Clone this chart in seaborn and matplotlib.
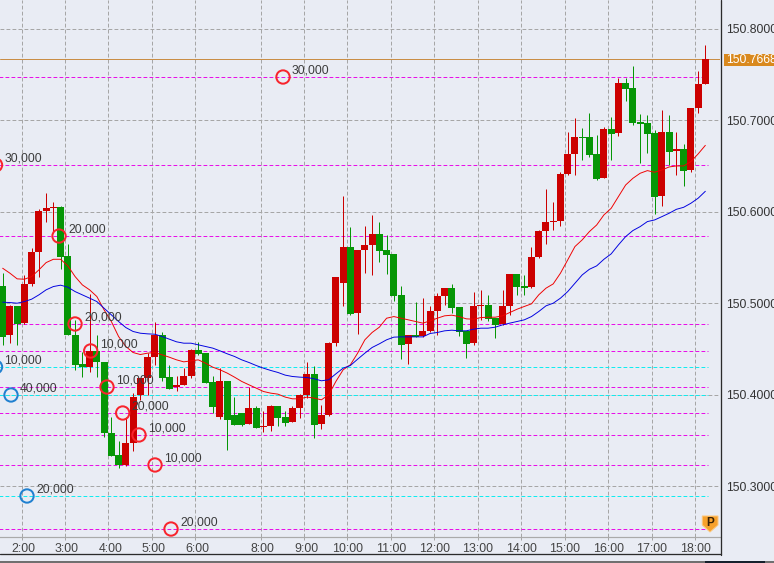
import numpy as np
import pandas as pd
import matplotlib
matplotlib.use("Agg")
import matplotlib.pyplot as plt
from matplotlib.lines import Line2D
from matplotlib.patches import Polygon, Rectangle
from matplotlib.transforms import ScaledTranslation
import seaborn as sns

# Candles: values minus 150
opens = [.5189,.4647,.4964,.4782,.5211,.5561,.6008,.6041,.6056,.5517,.4654,.4338,.4305,.4476,.4359,.3580,.3340,.3235,.3475,.3995,
         .4185,.4414,.4654,.4196,.4083,.4108,.4206,.4490,.4458,.4141,.3759,.4152,.3781,.3799,.3682,.3857,.3650,.3660,.3879,.3759,
         .3704,.3857,.3999,.4228,.3682,.3781,.4567,.5222,.5615,.4894,.5582,.5637,.5757,.5582,.5539,.5091,.4556,.4654,.4643,.4698,
         .4916,.5080,.5167,.4960,.4698,.4567,.4971,.4982,.4840,.4774,.4971,.5320,.5189,.5178,.5506,.5790,.5888,.5899,.6412,.6631,
         .6816,.6816,.6631,.6369,.6904,.6860,.7406,.7351,.6980,.6969,.6860,.6172,.6871,.6667,.6685,.6456,.7133,.7395]
highs = [.5328,.4982,.4964,.5309,.5601,.6026,.6201,.6107,.6063,.5648,.4818,.4465,.5098,.4654,.4359,.3759,.3497,.3751,.4017,.4185,
         .4454,.4793,.4683,.4327,.4199,.4297,.4498,.4574,.4458,.4199,.4290,.4152,.3974,.3799,.4083,.3879,.3824,.3890,.3879,.3824,
         .3879,.4010,.4359,.4316,.3890,.4578,.5288,.6172,.5834,.5582,.5844,.5965,.5888,.5746,.5539,.5189,.4654,.5015,.5058,.4971,
         .5113,.5167,.5211,.4960,.4698,.5124,.5146,.5091,.4840,.5146,.5320,.5320,.5309,.5615,.5801,.6249,.6107,.6434,.6871,.7024,
         .6915,.7078,.6838,.6926,.7035,.7461,.7461,.7592,.7068,.7057,.6893,.7111,.7057,.6871,.6740,.7133,.7537,.7821]
lows = [.4538,.4563,.4538,.4774,.5189,.5291,.5892,.5764,.5375,.4647,.4265,.4188,.4243,.4188,.3533,.3326,.3195,.3216,.3380,.3944,
        .3999,.4327,.4148,.4065,.4043,.4101,.4185,.4436,.4130,.3799,.3737,.3398,.3664,.3653,.3682,.3639,.3595,.3606,.3660,.3660,
        .3704,.3748,.3966,.3529,.3628,.3770,.4534,.4971,.4873,.4665,.5331,.5309,.5451,.5320,.5025,.4392,.4338,.4632,.4632,.4687,
        .4654,.4982,.4894,.4643,.4403,.4545,.4818,.4807,.4621,.4767,.4873,.5091,.5091,.5167,.5495,.5648,.5801,.5844,.6401,.6401,
        .6565,.6598,.6347,.6369,.6565,.6827,.7209,.6947,.6532,.6642,.5976,.6063,.6511,.6401,.6281,.6434,.7078,.7395]
closes = [.4636,.4964,.4774,.5211,.5561,.6008,.6037,.6056,.5510,.4647,.4327,.4301,.4476,.4352,.3577,.3333,.3231,.3475,.3977,.4185,
          .4414,.4654,.4185,.4065,.4108,.4206,.4487,.4447,.4130,.3868,.4152,.3726,.3671,.3671,.3857,.3639,.3660,.3879,.3748,.3693,
          .3857,.3995,.4228,.3671,.3781,.4567,.5288,.5615,.4884,.5582,.5637,.5757,.5571,.5528,.5080,.4545,.4654,.4632,.4698,.4916,
          .5080,.5167,.4949,.4687,.4556,.4971,.4982,.4829,.4763,.4971,.5320,.5178,.5167,.5506,.5790,.5888,.5899,.6412,.6631,.6816,
          .6805,.6620,.6358,.6904,.6849,.7406,.7341,.6969,.6958,.6849,.6161,.6871,.6653,.6685,.6445,.7133,.7395,.7668]

ma_fast = [.5382,.5328,.5266,.5262,.5291,.5364,.5444,.5480,.5480,.5408,.5291,.5200,.5146,.5073,.4927,.4800,.4636,.4527,.4461,.4439,
           .4454,.4461,.4436,.4410,.4381,.4359,.4370,.4381,.4345,.4301,.4272,.4236,.4192,.4145,.4108,.4072,.4035,.4017,.4006,.3974,
           .3955,.3955,.3974,.3963,.3944,.3999,.4145,.4272,.4327,.4454,.4600,.4680,.4738,.4836,.4854,.4836,.4818,.4800,.4782,.4807,
           .4836,.4862,.4869,.4854,.4829,.4825,.4843,.4847,.4847,.4862,.4898,.4934,.4964,.4993,.5091,.5164,.5211,.5328,.5473,.5619,
           .5692,.5783,.5855,.5965,.6037,.6165,.6292,.6365,.6420,.6449,.6431,.6456,.6489,.6500,.6500,.6547,.6631,.6725]
ma_slow = [.5011,.5007,.5000,.5018,.5044,.5091,.5146,.5182,.5197,.5175,.5127,.5091,.5055,.5018,.4945,.4873,.4800,.4734,.4691,.4672,
           .4665,.4661,.4636,.4607,.4578,.4563,.4563,.4545,.4527,.4509,.4479,.4447,.4418,.4381,.4352,.4319,.4290,.4265,.4243,.4214,
           .4199,.4192,.4188,.4174,.4152,.4163,.4228,.4290,.4319,.4388,.4454,.4516,.4556,.4600,.4629,.4632,.4632,.4632,.4632,.4669,
           .4680,.4698,.4705,.4698,.4698,.4716,.4727,.4727,.4738,.4763,.4782,.4800,.4818,.4854,.4909,.4971,.5000,.5055,.5127,.5218,
           .5309,.5371,.5408,.5480,.5539,.5637,.5728,.5794,.5837,.5892,.5910,.5946,.5983,.6026,.6048,.6092,.6147,.6223]

tick_labels = ["2:00","3:00","4:00","5:00","6:00","8:00","9:00","10:00","11:00","12:00","13:00","14:00","15:00","16:00","17:00","18:00"]
tick_bars = [2.6,8.6,14.6,20.6,26.6,35.6,41.6,47.6,53.6,59.6,65.6,71.6,77.6,83.6,89.6,95.6]
price_ticks = [150.3,150.4,150.5,150.6,150.7,150.8]
last_price = 150.7668

magenta_levels = [150.7472,150.6510,150.5734,150.4773,150.4478,150.4084,150.3800,150.3560,150.3232,150.2532]
cyan_levels = [150.4303,150.3997,150.2893]

red_x = [38.7,-0.99,7.78,9.99,12.15,14.4,16.57,18.82,21.03,23.24]
red_y = magenta_levels
red_amount = ["30,000","30,000","20,000","20,000","10,000","10,000","20,000","10,000","10,000","20,000"]
blue_x = [-0.99,1.15,3.36]
blue_y = cyan_levels
blue_amount = ["10,000","40,000","20,000"]

W, H = 774, 563
BG = "#e9ecf4"
TEXT = "#3c3c3c"
PX = 0.72  # points per pixel at dpi 100

sns.set_theme(style="white", rc={"figure.facecolor": BG, "axes.facecolor": BG, "savefig.facecolor": BG})
plt.rcParams["font.family"] = ["Liberation Sans", "DejaVu Sans"]

fig = plt.figure(figsize=(W / 100, H / 100), dpi=100)
AX_BOTTOM = 537.0
ax = fig.add_axes([0, 1 - AX_BOTTOM / H, 720 / W, AX_BOTTOM / H])

n = len(closes)
bars = np.arange(n)
o = 150 + np.array(opens); c = 150 + np.array(closes)
h = 150 + np.array(highs); l = 150 + np.array(lows)
up = c >= o
RED, GREEN = "#cc0000", "#069606"

# levels and grid
DASH = (0, (3.8, 2.2))
for t in tick_bars:
    ax.axvline(t, color="#a6a6a6", lw=1 * PX, ls=DASH, zorder=1)
for p in price_ticks:
    ax.axhline(p, color="#a6a6a6", lw=1 * PX, ls=DASH, zorder=1)
line_end = n - 1 + 0.42
for level in magenta_levels:
    ax.plot([-3, line_end], [level, level], color="#e810e8", lw=1 * PX, ls=DASH, zorder=1.5)
for level in cyan_levels:
    ax.plot([-3, line_end], [level, level], color="#10ecf0", lw=1 * PX, ls=DASH, zorder=1.5)
ax.axhline(last_price, color="#c98d45", lw=1 * PX, zorder=1.6)

# candles
for mask, col in ((up, RED), (~up, GREEN)):
    wicks = ax.vlines(bars[mask], l[mask], h[mask], color=col, lw=1 * PX, zorder=2)
    wicks.set_snap(True)
    ax.bar(bars[mask], np.abs(c - o)[mask], bottom=np.minimum(o, c)[mask], width=0.966,
           color=col, linewidth=0, zorder=2.1)

# moving averages
ma = pd.DataFrame({"bar": bars, "fast": 150 + np.array(ma_fast), "slow": 150 + np.array(ma_slow)})
sns.lineplot(data=ma, x="bar", y="fast", color="#f00000", lw=0.95 * PX, ax=ax, zorder=3, errorbar=None)
sns.lineplot(data=ma, x="bar", y="slow", color="#0000e0", lw=0.95 * PX, ax=ax, zorder=3, errorbar=None)

# volume rings
for xs, ys, col, amounts in ((red_x, red_y, "#f8242c", red_amount), (blue_x, blue_y, "#2080d0", blue_amount)):
    sns.scatterplot(x=xs, y=ys, s=92, facecolor="none", edgecolor=col, linewidth=2 * PX, ax=ax, zorder=4)
    for xv, yv, txt in zip(xs, ys, amounts):
        ax.annotate(txt, (xv, yv), xytext=(9 * PX, 6.5 * PX), textcoords="offset points",
                    va="center", ha="left", fontsize=8.7, color=TEXT, zorder=5, annotation_clip=False)

# axes
ax.set_xlim((0 - 2.67) / 7.244, (720 - 2.67) / 7.244)
ax.set_ylim(150.5 - (AX_BOTTOM - 303.2) / 915, 150.5 + 303.2 / 915)
ax.set_xlabel(""); ax.set_ylabel("")
ax.set_xticks(tick_bars, tick_labels)
ax.yaxis.tick_right()
ax.set_yticks(price_ticks, [f"{p:.4f}" for p in price_ticks])
ax.tick_params(axis="x", length=3 * PX, width=1 * PX, color="#a6a6a6", labelsize=8.9, labelcolor="#444444", pad=2.5, bottom=True)
ax.tick_params(axis="y", length=0, labelsize=8.7, labelcolor="#333333", pad=4.4, right=True)
shift = ScaledTranslation(2 / 100, 0, fig.dpi_scale_trans)
for lab in ax.get_xticklabels():
    if len(lab.get_text()) == 4:
        lab.set_transform(lab.get_transform() + shift)
for s in ("top", "left", "right"):
    ax.spines[s].set_visible(False)
ax.spines["bottom"].set_color("#aaaaaa")
ax.spines["bottom"].set_linewidth(1.2 * PX)

# frame and status strip in pixel coordinates
def fx(px): return px / W
def fy(py): return 1 - py / H
fig.add_artist(Line2D([fx(720.5)] * 2, [fy(0), fy(554.8)], color="#2b2b2b", lw=1.3 * PX))
fig.add_artist(Line2D([0, fx(721)], [fy(554.3)] * 2, color="#2b2b2b", lw=1.3 * PX))
fig.add_artist(Rectangle((0, 0), 1, 2.2 / H, transform=fig.transFigure, color="#707070", lw=0))
fig.add_artist(Rectangle((fx(705), 0), 60 / W, 2.2 / H, transform=fig.transFigure, color="#16202c", lw=0))

# current price tag
fig.add_artist(Rectangle((fx(724), fy(66)), 50 / W, 12.5 / H, transform=fig.transFigure, color="#d9891e", lw=0))
fig.text(fx(726), fy(59.8), f"{last_price:.4f}", color="white", fontsize=8.7, va="center", ha="left")

# badge
badge = [(702.3, 516), (718, 516), (718, 525), (710, 532), (702.3, 525)]
fig.add_artist(Polygon([(fx(a), fy(b)) for a, b in badge], closed=True, transform=fig.transFigure,
                       facecolor="#f7a12c", edgecolor="#fbc77e", lw=1 * PX))
fig.text(fx(710), fy(523), "P", color="#3a2205", fontsize=8.5, fontweight="bold", ha="center", va="center")

fig.savefig("out.png", dpi=100)
